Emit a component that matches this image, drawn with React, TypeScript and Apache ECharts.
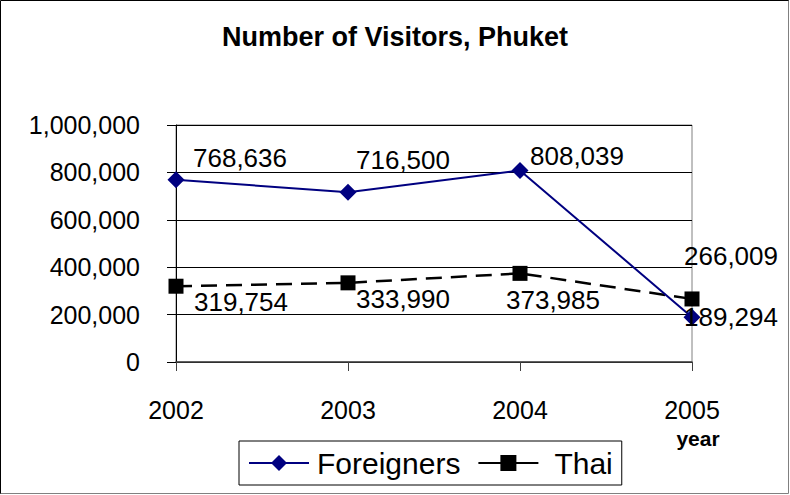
import React, { useEffect, useRef } from "react";
import * as echarts from "echarts";

const years = ["2002", "2003", "2004", "2005"];
const foreigners = [768636, 716500, 808039, 189294];
const thai = [319754, 333990, 373985, 266009];
const yMin = 0;
const yMax = 1000000;
const yInterval = 200000;

// label offsets (styling only): [dx, dy] of label centre from the point
const foreignerLabelOffsets = [[64, -22], [55, -32], [57, -14], [39, 0]];
const thaiLabelOffsets = [[65, 16], [55, 16], [33, 27], [39, -43]];

const FONT = "'Liberation Sans', Arial, sans-serif";

const fmt = (v: number) => v.toLocaleString("en-US");

export default function App() {
  const ref = useRef<HTMLDivElement>(null);
  useEffect(() => {
    if (!ref.current) return;
    const chart = echarts.init(ref.current, undefined, { renderer: "svg" });
    const labelBase = {
      show: true,
      position: "inside",
      align: "center",
      verticalAlign: "middle",
      color: "#000",
      fontSize: 26,
      fontFamily: FONT,
      formatter: (p: any) => fmt(p.value),
    };
    chart.setOption({
      animation: false,
      backgroundColor: "#fff",
      title: {
        text: "Number of Visitors, Phuket",
        left: "center",
        top: 18,
        textStyle: { fontSize: 27, fontWeight: "bold", fontFamily: FONT, color: "#000" },
      },
      grid: {
        left: 176,
        right: 98,
        top: 125,
        bottom: 133,
        show: true,
        borderColor: "#808080",
        borderWidth: 1,
        backgroundColor: "transparent",
      },
      xAxis: {
        type: "category",
        data: years,
        boundaryGap: false,
        axisLine: { show: true, lineStyle: { color: "#404040", width: 1.5 } },
        axisTick: { show: true, length: 9, lineStyle: { color: "#404040" } },
        axisLabel: { margin: 35, fontSize: 25, fontFamily: FONT, color: "#000" },
        splitLine: { show: false },
      },
      yAxis: {
        type: "value",
        min: yMin,
        max: yMax,
        interval: yInterval,
        axisLine: { show: true, lineStyle: { color: "#000", width: 1 } },
        axisTick: { show: true, length: 9, lineStyle: { color: "#000" } },
        axisLabel: { margin: 36, fontSize: 25, fontFamily: FONT, color: "#000", formatter: (v: number) => fmt(v) },
        splitLine: { show: true, lineStyle: { color: "#000", width: 1 } },
      },
      legend: {
        left: 239,
        top: 441,
        itemWidth: 60,
        itemHeight: 20,
        itemGap: 17,
        padding: [7, 9, 7, 9],
        borderColor: "#000",
        borderWidth: 1,
        textStyle: { fontSize: 30, fontFamily: FONT, color: "#000" },
        data: [
          { name: "Foreigners", textStyle: { padding: [0, 0, 0, 3] } },
          { name: "Thai", lineStyle: { type: "solid" }, textStyle: { padding: [0, 0, 0, 11] } },
        ],
      },
      graphic: [
        {
          type: "text",
          x: 698,
          y: 438,
          style: {
            text: "year",
            fontSize: 21,
            fontWeight: "bold",
            fontFamily: FONT,
            fill: "#000",
            align: "center",
            verticalAlign: "middle",
          },
        },
        {
          type: "polyline",
          shape: { points: [[0.5, 494], [0.5, 0.5], [789, 0.5]] },
          style: { stroke: "#000", lineWidth: 1, fill: null },
        },
        {
          type: "polyline",
          shape: { points: [[0.5, 493.5], [788.5, 493.5], [788.5, 0.5]] },
          style: { stroke: "#808080", lineWidth: 1, fill: null },
        },
      ],
      series: [
        {
          name: "Thai",
          type: "line",
          z: 2,
          data: thai.map((v, i) => ({ value: v, label: { offset: thaiLabelOffsets[i] } })),
          symbol: "rect",
          symbolSize: 15,
          itemStyle: { color: "#000" },
          lineStyle: { color: "#000", width: 2.5, type: [16, 9] },
          label: labelBase,
        },
        {
          name: "Foreigners",
          type: "line",
          z: 3,
          data: foreigners.map((v, i) => ({ value: v, label: { offset: foreignerLabelOffsets[i] } })),
          symbol: "diamond",
          symbolSize: 17,
          itemStyle: { color: "#000080" },
          lineStyle: { color: "#000080", width: 2 },
          label: labelBase,
        },
      ],
    });
    return () => chart.dispose();
  }, []);
  return (
    <div
      ref={ref}
      style={{ position: "absolute", left: 0, top: 0, width: 790, height: 495 }}
    />
  );
}
